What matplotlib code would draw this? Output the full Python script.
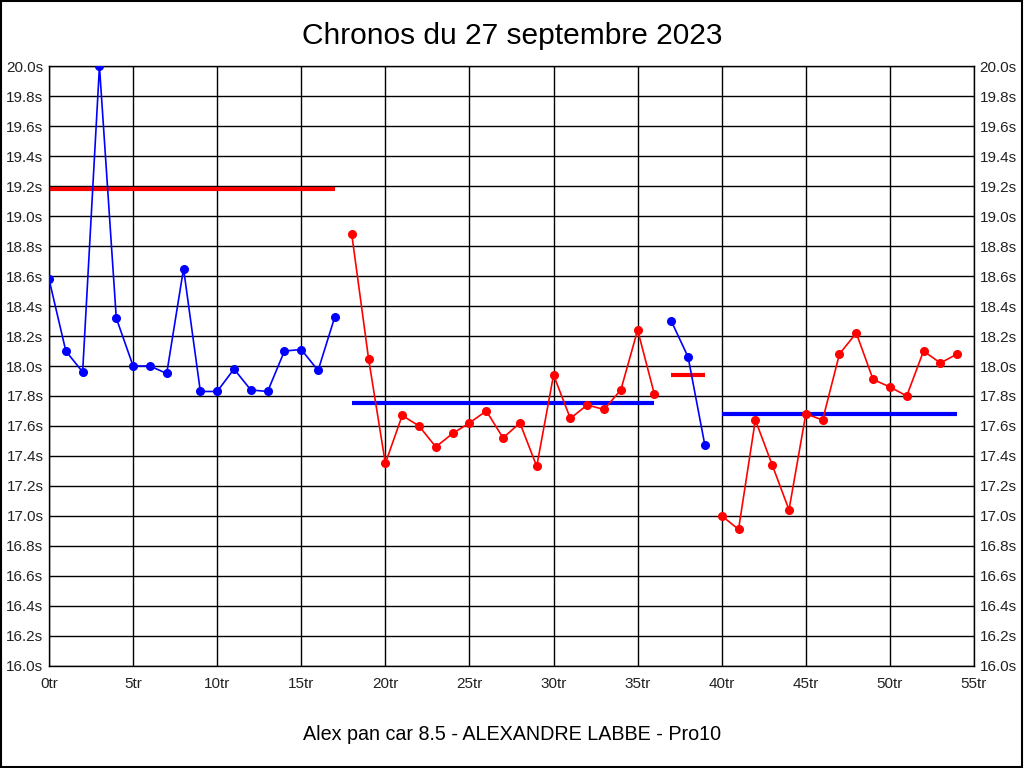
import matplotlib
matplotlib.use("Agg")
import matplotlib.pyplot as plt
from matplotlib.patches import Rectangle

plt.rcParams['font.family'] = ['Liberation Sans', 'DejaVu Sans']

# chronos par tour, par relais
laps1 = list(range(0, 18))
times1 = [18.58, 18.10, 17.96, 20.00, 18.32, 18.00, 18.00, 17.95, 18.65, 17.83,
          17.83, 17.98, 17.84, 17.83, 18.10, 18.11, 17.97, 18.33]
laps2 = list(range(18, 37))
times2 = [18.88, 18.05, 17.35, 17.67, 17.60, 17.46, 17.55, 17.62, 17.70, 17.52,
          17.62, 17.33, 17.94, 17.65, 17.74, 17.71, 17.84, 18.24, 17.81]
laps3 = [37, 38, 39]
times3 = [18.30, 18.06, 17.47]
laps4 = list(range(40, 55))
times4 = [17.00, 16.91, 17.64, 17.34, 17.04, 17.68, 17.64, 18.08, 18.22, 17.91,
          17.86, 17.80, 18.10, 18.02, 18.08]

# moyennes (debut, fin, valeur)
avg1 = (0, 17, 19.18)
avg2 = (18, 36, 17.75)
avg3 = (37, 39, 17.94)
avg4 = (40, 54, 17.68)

fig = plt.figure(figsize=(10.24, 7.68), dpi=100)
ax = fig.add_axes([49/1024, (768-665.7)/768, (974-49)/1024, (665.7-66.3)/768])

series = [(laps1, times1, 'blue', avg1), (laps2, times2, 'red', avg2),
          (laps3, times3, 'blue', avg3), (laps4, times4, 'red', avg4)]
for laps, times, col, avg in series:
    ax.plot(laps, times, color=col, lw=1.2, marker='o', ms=5.5, zorder=3)
    other = 'red' if col == 'blue' else 'blue'
    ax.plot([avg[0], avg[1]], [avg[2], avg[2]], color=other, lw=3, zorder=2,
            solid_capstyle='butt')

ax.set_xlim(0, 55)
ax.set_ylim(16.0, 20.0)
xt = list(range(0, 56, 5))
yt = [16.0 + 0.2 * i for i in range(21)]
ax.set_xticks(xt)
ax.set_xticklabels([f"{v}tr" for v in xt])
ax.set_yticks(yt)
ax.set_yticklabels([f"{v:.1f}s" for v in yt])
ax.tick_params(axis='both', length=0, labelsize=11, colors='#222222', pad=4)
ax.tick_params(axis='x', pad=8)
ax.tick_params(axis='y', right=True, labelright=True)
ax.grid(True, color='black', lw=1)
ax.set_axisbelow(True)
for s in ax.spines.values():
    s.set_color('black')
    s.set_linewidth(1)

fig.text(0.5, 1 - 36/768, "Chronos du 27 septembre 2023", ha='center', va='center', fontsize=21.5)
fig.text(0.5, 1 - 735/768, "Alex pan car 8.5 - ALEXANDRE LABBE - Pro10", ha='center', va='center', fontsize=14.2)

fig.patches.append(Rectangle((0.0005, 0.0007), 0.998, 0.998, transform=fig.transFigure,
                             fill=False, edgecolor='black', lw=1.5))

fig.savefig("out.png", dpi=100)
